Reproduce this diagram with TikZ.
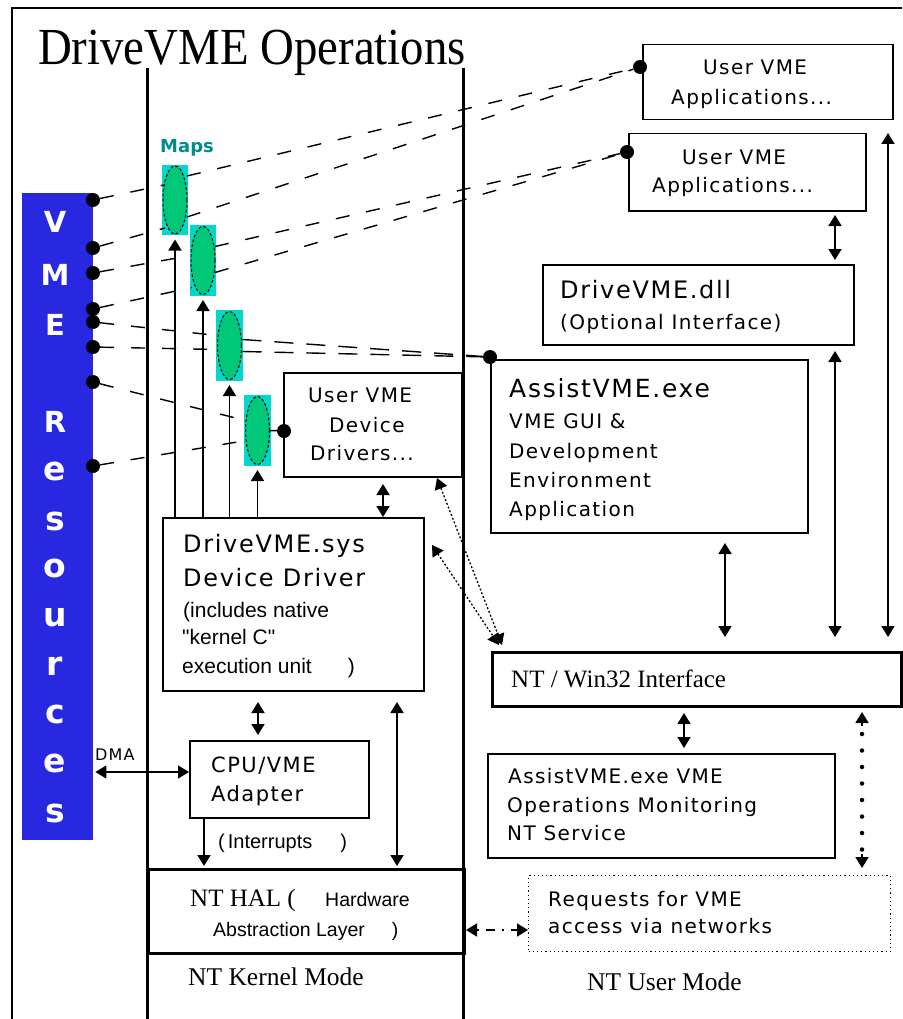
\documentclass[tikz,border=0pt]{standalone}
\usepackage{fontspec}
\usepackage{graphicx}
\setmainfont{Liberation Serif}
\newfontfamily\vf[LetterSpace=7]{DejaVu Sans}
\newfontfamily\dvs{DejaVu Sans}
\newfontfamily\lsans{Liberation Sans}
\usetikzlibrary{arrows.meta,shapes.geometric,calc}
\newcommand\fsz[1]{\fontsize{#1}{#1}\selectfont}
\definecolor{vmeblue}{RGB}{40,40,225}
\definecolor{mapcyan}{RGB}{0,215,205}
\definecolor{mapgreen}{RGB}{0,200,120}
\definecolor{mapteal}{RGB}{0,140,140}
\begin{document}
\begin{tikzpicture}[x=1pt,y=-1pt,
  box/.style={draw,line width=1.5pt,inner sep=0pt,anchor=north west},
  thickbox/.style={box,line width=3pt},
  dotbox/.style={box,line width=1.2pt,dash pattern=on 1.2pt off 3pt},
  txt/.style={anchor=base west,inner sep=0pt},
  dot/.style={circle,fill=black,minimum size=14pt,inner sep=0pt},
  map/.style={ellipse,draw,fill=mapgreen,dash pattern=on 3pt off 2pt,line width=1pt,minimum width=24pt,minimum height=68pt,inner sep=0pt},
  link/.style={line width=1.4pt,dash pattern=on 14pt off 17pt},
  dlink/.style={line width=1.4pt,dash pattern=on 19pt off 13pt},
  tip/.tip={Triangle[width=13pt,length=11pt]},
  arr/.style={line width=1.7pt,tip-tip},
  uarr/.style={line width=1.7pt,-tip},
  dotarr/.style={line width=1.3pt,dash pattern=on 2pt off 2pt,tip-tip},
  vlet/.style={anchor=base,inner sep=0pt,text=white,font=\dvs\bfseries\fsz{29}},
  vlow/.style={vlet,font=\dvs\bfseries\fsz{33}},
]
\useasboundingbox (0,0) rectangle (902,1019);
\fill[white] (0,0) rectangle (902,1019);
% frame
\draw[line width=2pt] (12,1019) -- (12,8) -- (902,8);
% title
\node[txt,font=\fsz{52}] (title) at (38,65) {\scalebox{0.9}[1]{DriveVME Operations}};
% kernel column
\coordinate (kl1) at (147,68); \coordinate (kl2) at (147,1019);
\coordinate (kr1) at (463,68); \coordinate (kr2) at (463,1019);
\draw[line width=3pt] (kl1) -- (kl2);
\draw[line width=3pt] (kr1) -- (kr2);

% VME resources bar
\node[fill=vmeblue,minimum width=71pt,minimum height=647pt,inner sep=0pt,anchor=north west] (vme) at (22,193) {};
\node[vlet] (l1) at (55,232) {V};
\node[vlet] (l2) at (55,285) {M};
\node[vlet] (l3) at (55,335) {E};
\node[vlet] (l4) at (55,432) {R};
\node[vlow] (l5) at (55,480) {e};
\node[vlow] (l6) at (55,530) {s};
\node[vlow] (l7) at (55,577) {o};
\node[vlow] (l8) at (55,626) {u};
\node[vlow] (l9) at (55,675) {r};
\node[vlow] (l10) at (55,723) {c};
\node[vlow] (l11) at (55,772) {e};
\node[vlow] (l12) at (55,822) {s};

% dots on the bar
\node[dot] (d1) at (93,200) {};
\node[dot] (d2) at (93,248) {};
\node[dot] (d3) at (93,273) {};
\node[dot] (d4) at (93,309) {};
\node[dot] (d5) at (93,322) {};
\node[dot] (d6) at (93,347) {};
\node[dot] (d7) at (93,382) {};
\node[dot] (d8) at (93,466) {};

% maps
\node[txt,font=\dvs\bfseries\fsz{18},text=mapteal] (maps) at (160,153) {Maps};
\fill[mapcyan] (162,165) rectangle (188,235);
\fill[mapcyan] (190,225) rectangle (216,296);
\fill[mapcyan] (216,310) rectangle (243,381);
\fill[mapcyan] (244,395) rectangle (271,466);
\node[map] (e1) at (175,200) {};
\node[map] (e2) at (203,260.5) {};
\node[map] (e3) at (229.5,345.5) {};
\node[map] (e4) at (257.5,430.5) {};

% boxes kernel side
\node[box,minimum width=261pt,minimum height=173pt] (sys) at (162,517) {};
\node[box,minimum width=178pt,minimum height=104pt] (uvdd) at (283,372) {};
\node[box,minimum width=179pt,minimum height=77pt] (cpu) at (189,740) {};
\node[thickbox,minimum width=316pt,minimum height=84pt] (hal) at (147,868) {};

% boxes user side
\node[box,minimum width=250pt,minimum height=75pt] (app1) at (642,44) {};
\node[box,minimum width=237pt,minimum height=77pt] (app2) at (628,133) {};
\node[box,minimum width=311pt,minimum height=80pt] (dll) at (542,264) {};
\node[box,minimum width=317pt,minimum height=173pt] (assist) at (490,359) {};
\node[thickbox,minimum width=409pt,minimum height=54pt] (w32) at (491,651) {};
\node[box,minimum width=347pt,minimum height=104pt] (mon) at (487,753) {};
\node[dotbox,minimum width=362pt,minimum height=76pt] (req) at (528,875) {};

% connection dots
\node[dot] (p1) at (640,67) {};
\node[dot] (p2) at (627,152) {};
\node[dot] (p3) at (490,357) {};
\node[dot] (p4) at (284,431) {};

% ellipse attachment points
\coordinate (e1a) at ($(e1.center)+(-11,-15)$);
\coordinate (e1b) at ($(e1.center)+(-10,28)$);
\coordinate (e2a) at ($(e2.center)+(-12,-5)$);
\coordinate (e2b) at ($(e2.center)+(-11,27)$);
\coordinate (e3a) at ($(e3.center)+(-12,-10)$);
\coordinate (e3b) at ($(e3.center)+(-12,4)$);
\coordinate (e4a) at ($(e4.center)+(-12,-10)$);
\coordinate (e4b) at ($(e4.center)+(-11,10)$);
\coordinate (e1c) at ($(e1.center)+(12,-24)$);
\coordinate (e1d) at ($(e1.center)+(12,17)$);
\coordinate (e2c) at ($(e2.center)+(12,-14)$);
\coordinate (e2d) at ($(e2.center)+(12,12)$);
\coordinate (e3c) at ($(e3.center)+(13,-6)$);
\coordinate (e3d) at ($(e3.center)+(13,6)$);

% links VME -> maps
\draw[link] (d1) -- (e1a);
\draw[link] (d2) -- (e1b);
\draw[link] (d3) -- (e2a);
\draw[link] (d4) -- (e2b);
\draw[link] (d5) -- (e3a);
\draw[link] (d6) -- (e3b);
\draw[link] (d7) -- (e4a);
\draw[link] (d8) -- (e4b);
% links maps -> users
\draw[link] (e1c) -- (p1);
\draw[link] (e1d) -- (p1);
\draw[link] (e2c) -- (p2);
\draw[link] (e2d) -- (p2);
\draw[dlink] (e3c) -- (p3);
\draw[dlink] (e3d) -- (p3);
\draw[line width=1.5pt] (e4.east) -- (p4);

% arrows driver -> maps
\draw[uarr,shorten >=5pt] (e1.south |- sys.north) -- (e1.south);
\draw[uarr,shorten >=5pt] (e2.south |- sys.north) -- (e2.south);
\draw[uarr,shorten >=5pt] (e3.south |- sys.north) -- (e3.south);
\draw[uarr,shorten >=5pt] (e4.south |- sys.north) -- (e4.south);

% kernel side arrows
\coordinate (x383) at (383,476);
\draw[arr,shorten <=8pt] (x383) -- (x383 |- sys.north);
\coordinate (x258) at (258,690);
\draw[arr,shorten <=12pt,shorten >=5pt] (x258) -- (x258 |- cpu.north);
\coordinate (x397) at (397,690);
\draw[arr,shorten <=12pt,shorten >=2pt] (x397) -- (x397 |- hal.north);
\coordinate (x204) at (204,817);
\draw[uarr,shorten >=2pt] (x204) -- (x204 |- hal.north);
\coordinate (dmal) at (vme.east |- 0,772);
\draw[arr,shorten <=2pt] (dmal) -- (dmal -| cpu.west);

% dotted diagonal arrows
\coordinate (dg1) at (437,478);
\coordinate (dg2) at (432,545);
\coordinate (dgt1) at (502,645);
\coordinate (dgt2) at (499,645);
\draw[dotarr] (dg1) -- (dgt1);
\draw[dotarr] (dg2) -- (dgt2);

% user side arrows
\coordinate (x888) at (888,119);
\draw[arr,shorten <=14pt,shorten >=14pt] (x888) -- (x888 |- w32.north);
\coordinate (x835a) at (835,210);
\draw[arr,shorten <=5pt,shorten >=4pt] (x835a) -- (x835a |- dll.north);
\coordinate (x835b) at (835,344);
\draw[arr,shorten <=7pt,shorten >=14pt] (x835b) -- (x835b |- w32.north);
\coordinate (x725) at (725,532);
\draw[arr,shorten <=11pt,shorten >=14pt] (x725) -- (x725 |- w32.north);
\coordinate (x684) at (684,705);
\draw[arr,shorten <=8pt,shorten >=5pt] (x684) -- (x684 |- mon.north);
% dotted vertical arrow between NT/Win32 and Requests
\coordinate (q1) at (862,712);
\coordinate (q2) at (862,868);
\coordinate (q1s) at (862,726);
\coordinate (q2s) at (862,854);
\draw[line width=4.5pt,line cap=round,dash pattern=on 0pt off 16.5pt] (862,734) -- (862,850);
\draw[uarr] (q1s) -- (q1);
\draw[uarr] (q2s) -- (q2);
% requests <-> HAL
\coordinate (y930) at (463,930);
\draw[line width=1.5pt,dash pattern=on 2pt off 7pt on 9pt off 7pt,tip-tip,shorten <=3pt] (y930) -- (y930 -| req.west);

% texts
\node[txt,font=\vf\fsz{20}] (ta1) at (703,75) {User VME};
\node[txt,font=\vf\fsz{20}] (ta2) at (671,105) {Applications...};
\node[txt,font=\vf\fsz{20}] (tb1) at (682,165) {User VME};
\node[txt,font=\vf\fsz{20}] (tb2) at (652,193) {Applications...};
\node[txt,font=\vf\fsz{24}] (tc1) at (560,298) {DriveVME.dll};
\node[txt,font=\vf\fsz{20}] (tc2) at (560,329) {(Optional Interface)};
\node[txt,font=\vf\fsz{25}] (td1) at (509,397) {AssistVME.exe};
\node[txt,font=\vf\fsz{20}] (td2) at (509,428) {VME GUI \&};
\node[txt,font=\vf\fsz{20}] (td3) at (509,458) {Development};
\node[txt,font=\vf\fsz{20}] (td4) at (509,487) {Environment};
\node[txt,font=\vf\fsz{20}] (td5) at (509,516) {Application};
\node[txt,font=\vf\fsz{20}] (te1) at (308,402) {User VME};
\node[txt,font=\vf\fsz{20}] (te2) at (329,432) {Device};
\node[txt,font=\vf\fsz{20}] (te3) at (310,460) {Drivers...};
\node[txt,font=\vf\fsz{24}] (tf1) at (183,552) {DriveVME.sys};
\node[txt,font=\vf\fsz{24}] (tf2) at (183,586) {Device Driver};
\node[txt,font=\lsans\fsz{21}] (tf3) at (183,617) {(includes native};
\node[txt,font=\lsans\fsz{21}] (tf4) at (182,644) {"kernel C"};
\node[txt,font=\lsans\fsz{21}] (tf5) at (182,673) {execution unit\hspace{36pt})};
\node[txt,font=\vf\fsz{21}] (tg1) at (211,772) {CPU/VME};
\node[txt,font=\vf\fsz{21}] (tg2) at (211,801) {Adapter};
\node[txt,font=\lsans\fsz{20}] (tint) at (218,848) {(\hspace{3pt}Interrupts\hspace{28pt})};
\node[txt,font=\vf\fsz{16}] (tdma) at (95,760) {DMA};
\node[txt,font=\fsz{25}] (th1) at (190,906) {NT HAL (};
\node[txt,font=\lsans\fsz{19.5}] (th2) at (325,906) {Hardware};
\node[txt,font=\lsans\fsz{19.5}] (th3) at (213,936) {Abstraction Layer\hspace{27pt})};
\node[txt,font=\fsz{25.5}] (tk) at (188,985) {NT Kernel Mode};
\node[txt,font=\fsz{25}] (tw) at (511,687) {NT / Win32 Interface};
\node[txt,font=\vf\fsz{20}] (tm1) at (508,783) {AssistVME.exe VME};
\node[txt,font=\vf\fsz{20}] (tm2) at (507,812) {Operations Monitoring};
\node[txt,font=\vf\fsz{20}] (tm3) at (507,840) {NT Service};
\node[txt,font=\vf\fsz{20}] (tr1) at (548,906) {Requests for VME};
\node[txt,font=\vf\fsz{20}] (tr2) at (548,933) {access via networks};
\node[txt,font=\fsz{25.5}] (tu) at (587,990) {NT User Mode};
\end{tikzpicture}
\end{document}
